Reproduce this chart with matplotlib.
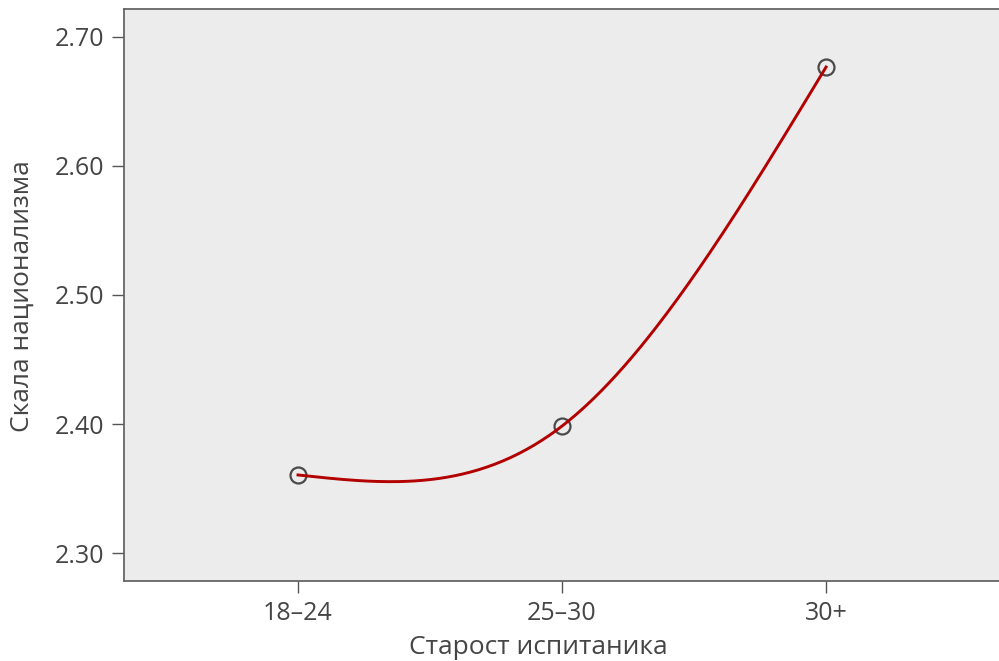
import numpy as np
import matplotlib
matplotlib.use("Agg")
import matplotlib.pyplot as plt

# data
age_groups = ["18–24", "25–30", "30+"]
nationalism = [2.3605, 2.3984, 2.6767]
y_ticks = [2.30, 2.40, 2.50, 2.60, 2.70]

TEXT = "#454545"
plt.rcParams["font.family"] = ["Open Sans", "DejaVu Sans"]


def natural_spline(x, y, n=200):
    """Natural cubic spline through the points, sampled for drawing."""
    x = np.asarray(x, float)
    y = np.asarray(y, float)
    k = len(x)
    h = np.diff(x)
    A = np.zeros((k, k))
    b = np.zeros(k)
    A[0, 0] = A[-1, -1] = 1
    for i in range(1, k - 1):
        A[i, i - 1] = h[i - 1]
        A[i, i] = 2 * (h[i - 1] + h[i])
        A[i, i + 1] = h[i]
        b[i] = 6 * ((y[i + 1] - y[i]) / h[i] - (y[i] - y[i - 1]) / h[i - 1])
    M = np.linalg.solve(A, b)
    xs = np.linspace(x[0], x[-1], n)
    idx = np.clip(np.searchsorted(x, xs) - 1, 0, k - 2)
    x0, x1 = x[idx], x[idx + 1]
    hh = x1 - x0
    t0, t1 = x1 - xs, xs - x0
    ys = (M[idx] * t0 ** 3 + M[idx + 1] * t1 ** 3) / (6 * hh) \
        + (y[idx] / hh - M[idx] * hh / 6) * t0 \
        + (y[idx + 1] / hh - M[idx + 1] * hh / 6) * t1
    return xs, ys


fig = plt.figure(figsize=(9.99, 6.61), dpi=100)
ax = fig.add_axes([124 / 999, 80 / 661, 1 - 124 / 999, 572 / 661])
ax.set_facecolor("#ececec")

pos = np.arange(len(age_groups))
xs, ys = natural_spline(pos, nationalism)
ax.plot(pos, nationalism, linestyle="none", marker="o", markersize=11.5,
        markerfacecolor="none", markeredgecolor="#4a4a4a", markeredgewidth=1.6, zorder=2)
ax.plot(xs, ys, color="#b30000", linewidth=2.1, zorder=3)

ax.set_xlim(-0.659, 2.655)
ax.set_ylim(2.2783, 2.7217)
ax.set_xticks(pos)
ax.set_xticklabels(age_groups)
ax.set_yticks(y_ticks)
ax.set_yticklabels([f"{v:.2f}" for v in y_ticks])

for side in ["left", "bottom", "top"]:
    ax.spines[side].set_color("#666666")
    ax.spines[side].set_linewidth(1.3)
ax.spines["right"].set_visible(False)

ax.tick_params(axis="both", direction="out", length=8.5, width=1.0,
               color="#555555", labelcolor=TEXT, labelsize=18, pad=6)

ax.set_xlabel("Старост испитаника", fontsize=19, color=TEXT)
ax.xaxis.label.set_va("top")
ax.xaxis.set_label_coords(0.474, -0.094)
ax.set_ylabel("Скала национализма", fontsize=19, color=TEXT)
ax.yaxis.label.set_va("center")
ax.yaxis.set_label_coords(-0.1166, 0.498)

fig.savefig("out.png", dpi=100)
